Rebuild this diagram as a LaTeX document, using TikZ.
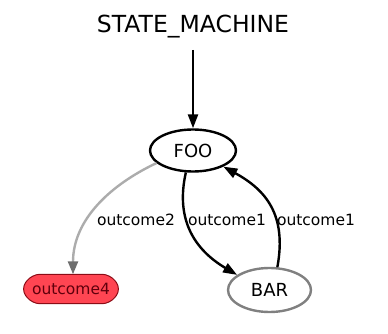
\documentclass[tikz,border=0pt]{standalone}
\usepackage{fontspec}
\setmainfont{DejaVu Sans}
\usetikzlibrary{arrows.meta,shapes.geometric}
\definecolor{ofill}{RGB}{255,69,82}
\definecolor{oline}{RGB}{140,12,22}
\definecolor{otext}{RGB}{95,0,12}
\definecolor{edgegray}{RGB}{172,172,172}
\definecolor{tipgray}{RGB}{110,110,110}
\definecolor{bargray}{RGB}{128,128,128}
\tikzset{
  statenode/.style={ellipse,draw,line width=2.4pt,inner sep=0pt,font=\fontsize{18}{21}\selectfont},
  edgeline/.style={line width=2.4pt,-{Triangle[length=14pt,width=10pt]}},
  lbl/.style={inner sep=0pt,font=\fontsize{15.5}{18}\selectfont},
}
\begin{document}
\begin{tikzpicture}[x=1pt,y=-1pt]
\useasboundingbox (0,0) rectangle (388,334);
\node[inner sep=0pt,font=\fontsize{23.5}{27}\selectfont] (title) at (193,27) {STATE\_MACHINE};
\coordinate (start) at (193,50);
\node[statenode,minimum width=86pt,minimum height=42pt] (foo) at (193,150.5) {FOO};
\node[statenode,draw=bargray,minimum width=83pt,minimum height=44pt] (bar) at (269.5,290) {BAR};
\node[inner sep=0pt,minimum width=100pt,minimum height=29pt] (o4) at (71,289) {};
\fill[ofill,draw=oline,line width=1pt,rounded corners=8pt]
  (o4.west) -- ([xshift=11pt]o4.north west) -- ([xshift=-11pt]o4.north east) -- (o4.east)
  -- ([xshift=-11pt]o4.south east) -- ([xshift=11pt]o4.south west) -- cycle;
\node[inner sep=0pt,text=otext,font=\fontsize{15.5}{18}\selectfont] (o4text) at (o4.center) {outcome4};
\draw[edgeline] (start) -- (foo.north);
\draw[line width=2.4pt,draw=edgegray,-{Triangle[length=13pt,width=10pt,color=tipgray]}]
  (foo.199) .. controls (110,185) and (73,220) .. ([xshift=2pt]o4.north);
\draw[edgeline] (foo.-108) .. controls (175,220) and (195,250) .. (bar.155);
\draw[edgeline] (bar.71) .. controls (287,215) and (266,190) .. (foo.-28);
\node[lbl] (l1) at (136,220) {outcome2};
\node[lbl] (l2) at (227,220) {outcome1};
\node[lbl] (l3) at (316,220) {outcome1};
\end{tikzpicture}
\end{document}
